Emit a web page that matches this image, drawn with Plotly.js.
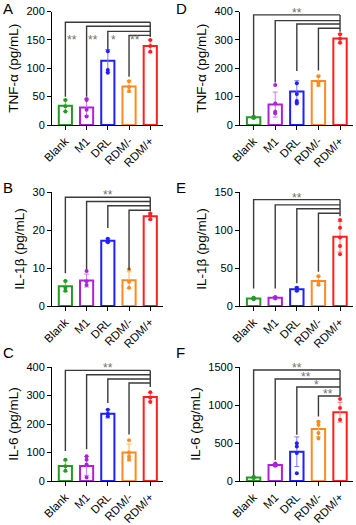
<!DOCTYPE html>
<html>
<head>
<meta charset="utf-8">
<script src="https://cdn.plot.ly/plotly-3.0.1.min.js"></script>
<style>html,body{margin:0;padding:0;background:#fff;}#chart{width:356px;height:525px;}</style>
</head>
<body>
<div id="chart"></div>
<script>
// ---------- DATA ----------
const categories = ['Blank', 'M1', 'DRL', 'RDM/-', 'RDM/+'];
const barColors = ['#249a24', '#b020dc', '#1f1fff', '#ff8a1e', '#ff1f1f'];
const errColors = ['#6cc06c', '#cc77ea', '#7777ff', '#ffb36a', '#ff7a7a'];

// Panel A: TNF-α
const tnfA_mean = [34, 31, 113, 68, 139];
const tnfA_sd = [10, 15, 20, 10, 11];
const tnfA_pts = [[44, 33, 24], [46, 44, 27, 15], [130, 97, 92], [77, 67, 60], [150, 139, 129]];
const tnfA_brH = [181, 174, 165, 158];
const tnfA_brEnd = [50, 50, 134, 85];
const tnfA_brRight = 155;
const tnfA_starTxt = ['**', '**', '*', '**'];
const tnfA_starX = [0.3, 1.3, 2.25, 3.3];
const tnfA_starY = [149, 149, 149, 149];

// Panel D: TNF-α
const tnfD_mean = [27, 72, 118, 155, 305];
const tnfD_sd = [4, 44, 38, 18, 17];
const tnfD_pts = [[29, 27, 25], [141, 76, 47, 41], [147, 109, 85, 76], [172, 150, 142], [320, 304, 290]];
const tnfD_brH = [388, 368, 356, 341];
const tnfD_brEnd = [35, 150, 190, 192];
const tnfD_brRight = 329;
const tnfD_starTxt = ['**'];
const tnfD_starX = [2];
const tnfD_starY = [388];

// Panel B: IL-1β
const ilB_mean = [5.2, 6.7, 17.2, 6.8, 23.6];
const ilB_sd = [1.4, 1.7, 0.5, 2.2, 0.9];
const ilB_pts = [[6.6, 4.8, 4.0], [9.2, 6.5, 5.5], [17.7, 17.1, 16.8], [9.7, 6.4, 4.8], [24.3, 23.8, 22.8]];
const ilB_brH = [28.6, 27.5, 26.4, 25.2];
const ilB_brEnd = [8.6, 9.7, 20.5, 9.5];
const ilB_brRight = 24.9;
const ilB_starTxt = ['**'];
const ilB_starX = [2];
const ilB_starY = [28.6];

// Panel E: IL-1β
const ilE_mean = [10, 11, 22, 33, 91];
const ilE_sd = [1.5, 1.5, 3, 6, 20];
const ilE_pts = [[11, 10, 9], [12, 11, 10], [24, 22, 20], [39, 32, 28], [113, 103, 90, 79, 68]];
const ilE_brH = [140, 133, 128, 122];
const ilE_brEnd = [23, 23, 30, 45];
const ilE_brRight = 118;
const ilE_starTxt = ['**'];
const ilE_starX = [2];
const ilE_starY = [140];

// Panel C: IL-6
const il6C_mean = [53, 53, 236, 100, 295];
const il6C_sd = [20, 33, 15, 30, 15];
const il6C_pts = [[75, 52, 36], [87, 75, 58, 12], [250, 236, 227], [143, 100, 87, 76], [311, 293, 277]];
const il6C_brH = [388, 373, 358, 344];
const il6C_brEnd = [105, 111, 274, 163];
const il6C_brRight = 330;
const il6C_starTxt = ['**'];
const il6C_starX = [2];
const il6C_starY = [388];

// Panel F: IL-6
const il6F_mean = [45, 210, 385, 685, 905];
const il6F_sd = [10, 20, 195, 100, 130];
const il6F_pts = [[55, 45, 38], [230, 210, 200], [497, 453, 370, 101], [780, 740, 630, 560], [1080, 960, 805]];
const il6F_brH = [1461, 1342, 1237, 1118];
const il6F_brEnd = [79, 277, 607, 849];
const il6F_brRight = 1113;
const il6F_starTxt = ['**', '**', '*', '**'];
const il6F_starX = [2.0, 2.43, 2.89, 3.44];
const il6F_starY = [1461, 1342, 1237, 1118];

const panelLetters = ['A', 'B', 'C', 'D', 'E', 'F'];
const yTitles = ['TNF-α (pg/mL)', 'IL-1β (pg/mL)', 'IL-6 (pg/mL)', 'TNF-α (pg/mL)', 'IL-1β (pg/mL)', 'IL-6 (pg/mL)'];
const yMax = [200, 30, 400, 400, 150, 1500];
const yDtick = [50, 10, 100, 100, 50, 500];

// ---------- LAYOUT HELPERS ----------
const W = 356, H = 525;
const colX = [[52, 163], [240, 353]];
const rowY = [[11.5, 125], [192, 306], [367, 481]];
const letterPos = [[1, 9], [1, 187], [1, 352], [174, 9], [174, 187], [174, 352]];
const FONT = 'Liberation Sans, Arial, sans-serif';

const panels = [
  {mean: tnfA_mean, sd: tnfA_sd, pts: tnfA_pts, brH: tnfA_brH, brEnd: tnfA_brEnd, brRight: tnfA_brRight, sT: tnfA_starTxt, sX: tnfA_starX, sY: tnfA_starY},
  {mean: ilB_mean, sd: ilB_sd, pts: ilB_pts, brH: ilB_brH, brEnd: ilB_brEnd, brRight: ilB_brRight, sT: ilB_starTxt, sX: ilB_starX, sY: ilB_starY},
  {mean: il6C_mean, sd: il6C_sd, pts: il6C_pts, brH: il6C_brH, brEnd: il6C_brEnd, brRight: il6C_brRight, sT: il6C_starTxt, sX: il6C_starX, sY: il6C_starY},
  {mean: tnfD_mean, sd: tnfD_sd, pts: tnfD_pts, brH: tnfD_brH, brEnd: tnfD_brEnd, brRight: tnfD_brRight, sT: tnfD_starTxt, sX: tnfD_starX, sY: tnfD_starY},
  {mean: ilE_mean, sd: ilE_sd, pts: ilE_pts, brH: ilE_brH, brEnd: ilE_brEnd, brRight: ilE_brRight, sT: ilE_starTxt, sX: ilE_starX, sY: ilE_starY},
  {mean: il6F_mean, sd: il6F_sd, pts: il6F_pts, brH: il6F_brH, brEnd: il6F_brEnd, brRight: il6F_brRight, sT: il6F_starTxt, sX: il6F_starX, sY: il6F_starY}
];

const traces = [];
const annotations = [];
const layout = {
  width: W, height: H,
  margin: {l: 0, r: 0, t: 0, b: 0},
  paper_bgcolor: '#fff', plot_bgcolor: 'rgba(0,0,0,0)',
  showlegend: false, barmode: 'overlay',
  font: {family: FONT, color: '#000'},
  annotations: annotations
};

panels.forEach((p, k) => {
  const n = k + 1;
  const xa = 'x' + (n === 1 ? '' : n), ya = 'y' + (n === 1 ? '' : n);
  const col = k < 3 ? 0 : 1, row = k % 3;
  const xd = colX[col], yd = rowY[row];
  layout['xaxis' + (n === 1 ? '' : n)] = {
    domain: [xd[0] / W, xd[1] / W], anchor: ya,
    type: 'category', categoryorder: 'array', categoryarray: categories,
    range: [-0.63, 4.6], showline: true, linecolor: '#000', linewidth: 1,
    ticks: 'outside', ticklen: 4, tickwidth: 1, tickcolor: '#000',
    tickangle: -45, tickfont: {size: 11.5, family: FONT, color: '#000'},
    showgrid: false, zeroline: false, fixedrange: true
  };
  layout['yaxis' + (n === 1 ? '' : n)] = {
    domain: [1 - yd[1] / H, 1 - yd[0] / H], anchor: xa,
    range: [0, yMax[k]], dtick: yDtick[k], tick0: 0,
    showline: true, linecolor: '#000', linewidth: 1,
    ticks: 'outside', ticklen: 4, tickwidth: 1, tickcolor: '#000',
    tickfont: {size: 11, family: FONT, color: '#000'},
    title: {text: yTitles[k], font: {size: 13.5, family: FONT, color: '#000'}, standoff: 4},
    showgrid: false, zeroline: false, fixedrange: true
  };

  categories.forEach((c, i) => {
    traces.push({
      type: 'bar', x: [c], y: [p.mean[i]], xaxis: xa, yaxis: ya, width: 0.62,
      marker: {color: '#fff', line: {color: barColors[i], width: 2}},
      error_y: {type: 'data', array: [p.sd[i]], visible: true, color: errColors[i], thickness: 1, width: 2.5},
      hoverinfo: 'skip'
    });
  });
  categories.forEach((c, i) => {
    traces.push({
      type: 'scatter', mode: 'markers', x: p.pts[i].map(() => c), y: p.pts[i],
      xaxis: xa, yaxis: ya, cliponaxis: false,
      marker: {color: barColors[i], size: 4}, hoverinfo: 'skip'
    });
  });
  // significance brackets
  for (let i = 0; i < 4; i++) {
    traces.push({
      type: 'scatter', mode: 'lines', xaxis: xa, yaxis: ya,
      x: [categories[i], categories[i], categories[4]],
      y: [p.brEnd[i], p.brH[i], p.brH[i]],
      line: {color: '#3a3a3a', width: 1.4}, hoverinfo: 'skip'
    });
  }
  traces.push({
    type: 'scatter', mode: 'lines', xaxis: xa, yaxis: ya,
    x: [categories[4], categories[4]], y: [Math.max(...p.brH), p.brRight],
    line: {color: '#3a3a3a', width: 1.4}, hoverinfo: 'skip'
  });
  p.sT.forEach((t, j) => {
    annotations.push({
      xref: xa, yref: ya, x: p.sX[j], y: p.sY[j], text: t, showarrow: false,
      yanchor: 'middle', yshift: k === 0 ? 0 : 2, font: {size: 12, family: FONT, color: '#6e6e6e'}
    });
  });
  annotations.push({
    xref: 'paper', yref: 'paper', x: letterPos[k][0] / W, y: 1 - letterPos[k][1] / H,
    xanchor: 'left', yanchor: 'middle', text: panelLetters[k], showarrow: false,
    font: {size: 15, family: FONT, color: '#000'}
  });
});

Plotly.newPlot('chart', traces, layout, {staticPlot: true, displayModeBar: false});
</script>
</body>
</html>
